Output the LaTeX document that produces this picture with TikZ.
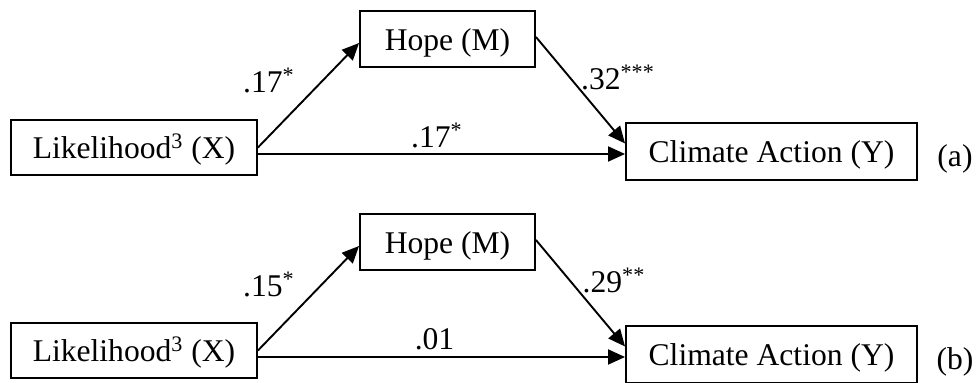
\documentclass[tikz,border=0pt]{standalone}
\usepackage{fontspec}
\setmainfont{Liberation Serif}
\usetikzlibrary{arrows.meta}
\tikzstyle{box} = [rectangle, draw, line width=0.95pt, inner sep=0pt, text height=15pt, text depth=3.5pt, font=\fontsize{15.8}{19}\selectfont]
\tikzstyle{arrow} = [line width=0.95pt, -{Triangle[length=8.5pt,width=7.5pt]}]
\tikzstyle{coef} = [anchor=base, inner sep=0pt, font=\fontsize{15.8}{19}\selectfont]

\begin{document}
\begin{tikzpicture}[x=0.5pt, y=-0.5pt]
    \useasboundingbox (0,0) rectangle (976,383);

    % panel (a)
    \node (xa) [box, minimum width=123pt, minimum height=27.5pt] at (134,147.5) {Likelihood\textsuperscript{3} (X)};
    \node (ma) [box, minimum width=87.5pt, minimum height=28pt] at (447.5,39) {Hope (M)};
    \node (ya) [box, minimum width=145.5pt, minimum height=28.5pt] at (771.5,151.5) {Climate Action (Y)};
    \node (taga) [coef] at (955,167) {(a)};
    \coordinate (ha) at ([yshift=-3.25pt]xa.east);

    \draw [arrow] (xa.east) -- ([yshift=-2pt]ma.west);
    \draw [arrow] ([yshift=1pt]ma.east) -- ([yshift=4pt]ya.west);
    \draw [arrow] (ha) -- (ha -| ya.west);

    \node (axma) [coef] at (269,93)  {.17\textsuperscript{*}};
    \node (amya) [coef] at (618,90)  {.32\textsuperscript{***}};
    \node (axya) [coef] at (437,148) {.17\textsuperscript{*}};

    % panel (b)
    \node (xb) [box, minimum width=123pt, minimum height=27.5pt] at (134,350.5) {Likelihood\textsuperscript{3} (X)};
    \node (mb) [box, minimum width=87.5pt, minimum height=28pt] at (447.5,242) {Hope (M)};
    \node (yb) [box, minimum width=145.5pt, minimum height=28.5pt] at (771.5,354.5) {Climate Action (Y)};
    \node (tagb) [coef] at (955,370) {(b)};
    \coordinate (hb) at ([yshift=-3.25pt]xb.east);

    \draw [arrow] (xb.east) -- ([yshift=-2pt]mb.west);
    \draw [arrow] ([yshift=1pt]mb.east) -- ([yshift=4pt]yb.west);
    \draw [arrow] (hb) -- (hb -| yb.west);

    \node (bxmb) [coef] at (269,297) {.15\textsuperscript{*}};
    \node (bmyb) [coef] at (614,293) {.29\textsuperscript{**}};
    \node (bxyb) [coef] at (434.5,350) {.01};
\end{tikzpicture}
\end{document}
